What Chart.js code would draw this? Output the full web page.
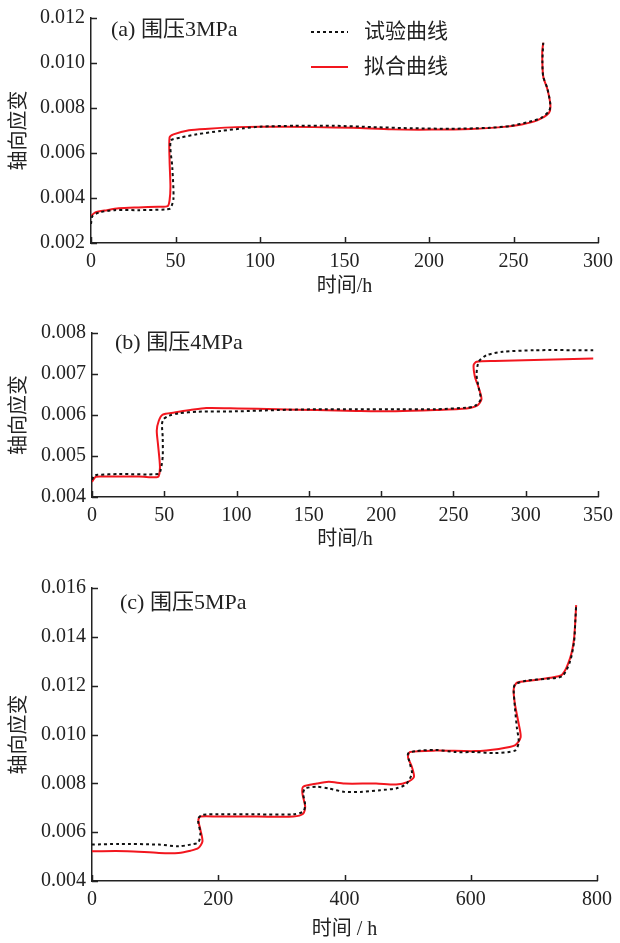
<!DOCTYPE html>
<html>
<head>
<meta charset="utf-8">
<script src="https://cdn.jsdelivr.net/npm/chart.js@4/dist/chart.umd.min.js"></script>
<style>
  body { margin: 0; background: #fff; width: 620px; height: 943px; position: relative; overflow: hidden; }
  canvas { position: absolute; left: 0; }
</style>
</head>
<body>
<canvas id="chart-a" width="620" height="305" style="top:0"></canvas>
<canvas id="chart-b" width="620" height="250" style="top:310px"></canvas>
<canvas id="chart-c" width="620" height="383" style="top:560px"></canvas>
<script>
// (a) 围压 3 MPa
const aTestTime = [0, 0.9, 4.9, 14, 28, 44, 47, 48.8, 48.1, 47.2, 53.5, 62.7, 76.6, 90.5, 99.8, 120.6, 143.8, 167, 190, 213, 236, 248, 259.5, 266.4, 271, 271.8, 270, 267.6, 267.1, 267.6];
const aTest     = [0.00285, 0.0032, 0.00336, 0.00346, 0.00346, 0.00349, 0.00354, 0.00398, 0.00537, 0.00654, 0.00669, 0.00683, 0.00698, 0.0071, 0.00717, 0.00721, 0.00721, 0.00715, 0.0071, 0.00708, 0.00712, 0.0072, 0.00739, 0.00756, 0.00786, 0.00815, 0.00888, 0.00939, 0.01005, 0.0109];
const aFitTime  = [0, 2.5, 9.5, 16.4, 28, 39.6, 45.4, 46.5, 47, 46.5, 46.5, 48.8, 58, 69.7, 85.9, 99.8, 132, 155, 178, 201.6, 224.8, 243, 254.9, 264, 271, 271.8, 270, 267.6, 267, 267.6];
const aFit      = [0.0032, 0.00336, 0.00346, 0.00354, 0.00358, 0.00361, 0.00364, 0.0039, 0.00449, 0.00566, 0.00669, 0.00683, 0.00701, 0.00708, 0.00715, 0.00717, 0.00715, 0.00712, 0.00705, 0.00704, 0.00707, 0.00715, 0.00727, 0.00745, 0.00778, 0.00815, 0.00885, 0.00939, 0.01049, 0.0109];

// (b) 围压 4 MPa
const bTestTime = [0, 1.4, 3.8, 18.9, 46, 47.5, 48.9, 48.9, 48.4, 49.5, 53, 59.8, 73.5, 100.8, 128, 155, 182.8, 210, 237.4, 259, 264.8, 268.8, 267.5, 266, 267.5, 273, 284, 305.7, 346.7];
const bTest     = [0.00442, 0.00452, 0.00454, 0.00456, 0.00456, 0.00466, 0.00498, 0.00546, 0.00578, 0.0059, 0.00598, 0.00604, 0.00608, 0.00609, 0.00612, 0.00614, 0.00614, 0.00614, 0.00614, 0.00618, 0.00622, 0.00638, 0.00666, 0.00698, 0.0073, 0.00746, 0.00754, 0.00758, 0.00758];
const bFitTime  = [0, 2.5, 8, 32.5, 43.4, 46, 47, 45.6, 44.8, 46.2, 48.9, 57, 68, 79, 100.8, 128, 155.5, 182.8, 210, 237.4, 259, 266, 269.4, 267.5, 264.8, 264, 266, 278.4, 305.7, 346.7];
const bFit      = [0.00437, 0.00449, 0.0045, 0.0045, 0.00448, 0.0045, 0.00474, 0.0053, 0.00562, 0.00586, 0.00601, 0.00606, 0.00612, 0.00617, 0.00616, 0.00614, 0.00612, 0.0061, 0.00609, 0.00612, 0.00616, 0.00622, 0.00638, 0.00666, 0.00694, 0.00722, 0.0073, 0.00732, 0.00734, 0.00738];

// (c) 围压 5 MPa
const cTestTime = [0, 43, 106, 137, 156, 168.5, 171.7, 168.5, 168.5, 175, 200, 262.5, 319, 334.5, 337.7, 334.5, 337.7, 356.5, 375, 400, 425.4, 456.7, 481.8, 497.4, 506.8, 503.7, 500.6, 513, 544.4, 575.7, 607, 638.4, 670, 676, 673, 670, 668, 670, 688.5, 720, 745, 757.4, 763.7, 765.6, 767];
const cTest     = [0.00549, 0.00552, 0.00549, 0.00542, 0.00549, 0.00558, 0.00596, 0.00637, 0.00657, 0.00671, 0.00673, 0.00673, 0.00673, 0.00684, 0.00711, 0.00759, 0.00779, 0.00786, 0.00779, 0.00765, 0.00765, 0.00772, 0.00779, 0.00796, 0.0084, 0.0088, 0.00921, 0.00932, 0.00937, 0.00928, 0.00928, 0.00924, 0.00934, 0.00968, 0.01029, 0.0111, 0.01185, 0.01205, 0.01221, 0.01228, 0.01239, 0.013, 0.01381, 0.01462, 0.0153];
const cFitTime  = [0, 55.8, 106, 137, 156, 168.5, 175, 171.7, 168.5, 171.7, 200, 262.5, 319, 334.5, 337.7, 333.3, 334.5, 356.5, 375, 400, 450, 481.8, 500.6, 510, 506.8, 500.6, 503.7, 544.4, 607, 644.6, 670, 679, 676, 670, 668, 673, 695, 726, 745, 757.4, 763.7, 767];
const cFit      = [0.00522, 0.00522, 0.00515, 0.00515, 0.00524, 0.00535, 0.00562, 0.0061, 0.0065, 0.00664, 0.00664, 0.00664, 0.00664, 0.00675, 0.00704, 0.00759, 0.00786, 0.00799, 0.00806, 0.00799, 0.00799, 0.00795, 0.00806, 0.00826, 0.00867, 0.00907, 0.00928, 0.00934, 0.00932, 0.00941, 0.00955, 0.00988, 0.01043, 0.01124, 0.01185, 0.01212, 0.01221, 0.01232, 0.01246, 0.01313, 0.01394, 0.0153];

const seriesNames = ['试验曲线', '拟合曲线'];

const FONT = "'Liberation Serif', 'Noto Sans CJK SC', serif";
const INK  = '#222';

function toPoints(ts, vs) {
  return ts.map((t, i) => ({ x: t, y: vs[i] }));
}

// short inward tick marks, positioned from the scales' own ticks
const inwardTicks = {
  id: 'inwardTicks',
  afterDraw(chart) {
    const ctx = chart.ctx, area = chart.chartArea;
    const xs = chart.scales.x, ys = chart.scales.y;
    ctx.save();
    ctx.strokeStyle = INK;
    ctx.lineWidth = 1.5;
    ctx.beginPath();
    xs.ticks.forEach(t => {
      const px = Math.round(xs.getPixelForValue(t.value)) + 0.5;
      ctx.moveTo(px, area.bottom);
      ctx.lineTo(px, area.bottom - 6);
    });
    ys.ticks.forEach(t => {
      const py = Math.round(ys.getPixelForValue(t.value)) + 0.5;
      ctx.moveTo(area.left, py);
      ctx.lineTo(area.left + 6, py);
    });
    ctx.stroke();
    ctx.restore();
  }
};

// panel label and (for the first panel) the legend
const panelText = {
  id: 'panelText',
  afterDraw(chart, args, opts) {
    const ctx = chart.ctx;
    ctx.save();
    ctx.fillStyle = INK;
    ctx.font = '22px ' + FONT;
    ctx.textBaseline = 'middle';
    ctx.textAlign = 'left';
    ctx.fillText(opts.label, opts.labelX, opts.labelY);
    if (opts.legend) {
      ctx.font = '21px ' + FONT;
      chart.data.datasets.forEach((ds, i) => {
        const y = opts.legendY[i];
        ctx.beginPath();
        ctx.strokeStyle = ds.borderColor;
        ctx.lineWidth = ds.borderWidth;
        ctx.setLineDash(ds.borderDash || []);
        ctx.moveTo(311, y);
        ctx.lineTo(348, y);
        ctx.stroke();
        ctx.setLineDash([]);
        ctx.fillStyle = INK;
        ctx.fillText(ds.label, 364, y);
      });
    }
    ctx.restore();
  }
};

function makeChart(id, p) {
  const canvas = document.getElementById(id);
  const H = canvas.height;
  return new Chart(canvas.getContext('2d'), {
    type: 'scatter',
    data: {
      datasets: [{
        label: seriesNames[0],
        data: toPoints(p.testTime, p.test),
        showLine: true,
        borderColor: '#111',
        borderWidth: 2,
        borderDash: [3, 3],
        pointRadius: 0,
        tension: 0.25,
      }, {
        label: seriesNames[1],
        data: toPoints(p.fitTime, p.fit),
        showLine: true,
        borderColor: '#f2161e',
        borderWidth: 2,
        pointRadius: 0,
        tension: 0.25,
      }]
    },
    options: {
      responsive: false,
      animation: false,
      layout: { padding: { top: p.area.top, right: 620 - p.area.right, left: 0, bottom: 0 } },
      plugins: {
        legend: { display: false },
        tooltip: { enabled: false },
        panelText: { label: p.label, labelX: p.labelX, labelY: p.labelY, legend: !!p.legend, legendY: [32, 67] },
      },
      scales: {
        x: {
          type: 'linear',
          min: 0, max: p.xMax,
          afterFit: s => { s.height = H - p.area.bottom; },
          ticks: { stepSize: p.xStep, color: INK, font: { family: FONT, size: 20 }, padding: 7, maxRotation: 0 },
          grid: { display: false, drawTicks: false },
          border: { color: INK, width: 1.5 },
          title: { display: true, text: p.xTitle, color: INK, font: { family: FONT, size: 20 }, padding: { top: 0, bottom: p.xTitlePad } },
        },
        y: {
          min: p.yMin, max: p.yMax,
          afterFit: s => { s.width = p.area.left; },
          ticks: { stepSize: p.yStep, color: INK, font: { family: FONT, size: 20 }, padding: 6, callback: v => v.toFixed(3) },
          grid: { display: false, drawTicks: false },
          border: { color: INK, width: 1.5 },
          title: { display: true, text: '轴向应变', color: INK, font: { family: FONT, size: 20 }, padding: { top: 8, bottom: 0 } },
        },
      },
    },
    plugins: [inwardTicks, panelText],
  });
}

makeChart('chart-a', {
  testTime: aTestTime, test: aTest, fitTime: aFitTime, fit: aFit,
  area: { left: 91, right: 603, top: 18, bottom: 243 },
  xMax: 300, xStep: 50, yMin: 0.002, yMax: 0.012, yStep: 0.002,
  xTitle: '时间/h', xTitlePad: 6,
  label: '(a) 围压3MPa', labelX: 111, labelY: 30, legend: true,
});
makeChart('chart-b', {
  testTime: bTestTime, test: bTest, fitTime: bFitTime, fit: bFit,
  area: { left: 92, right: 598, top: 23, bottom: 187 },
  xMax: 350, xStep: 50, yMin: 0.004, yMax: 0.008, yStep: 0.001,
  xTitle: '时间/h', xTitlePad: 8,
  label: '(b) 围压4MPa', labelX: 115, labelY: 33,
});
makeChart('chart-c', {
  testTime: cTestTime, test: cTest, fitTime: cFitTime, fit: cFit,
  area: { left: 92, right: 597, top: 28, bottom: 321 },
  xMax: 800, xStep: 200, yMin: 0.004, yMax: 0.016, yStep: 0.002,
  xTitle: '时间 / h', xTitlePad: 1,
  label: '(c) 围压5MPa', labelX: 120, labelY: 43,
});
</script>
</body>
</html>
